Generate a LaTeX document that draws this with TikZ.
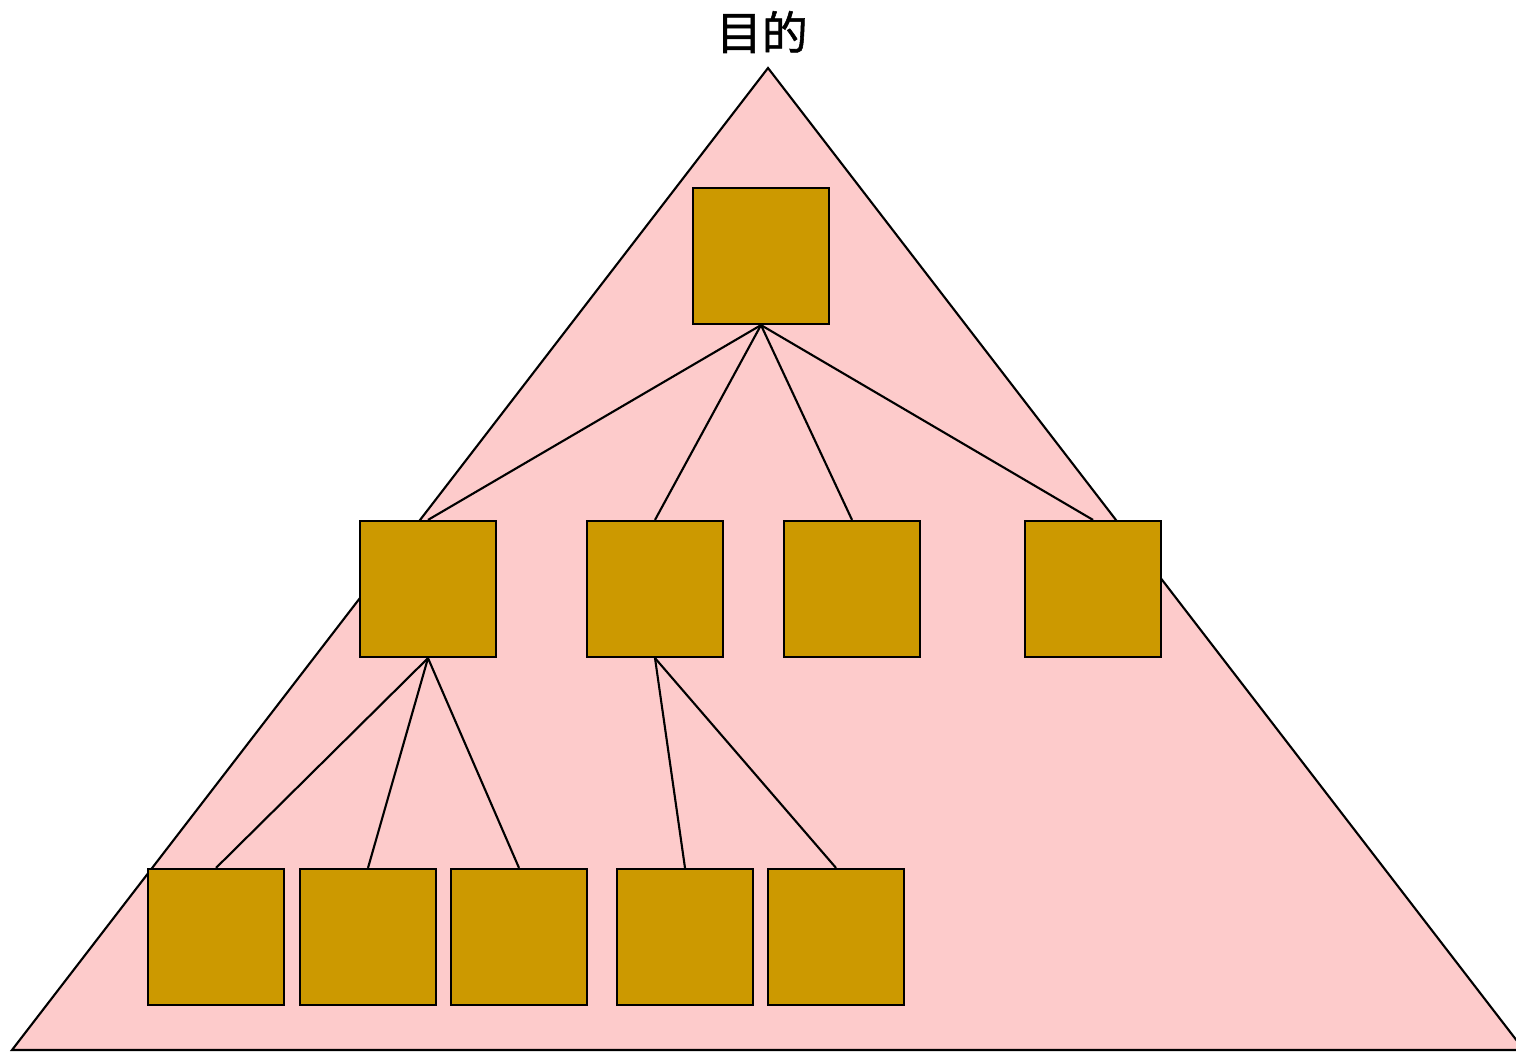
\documentclass[tikz,border=0pt]{standalone}
\usepackage{fontspec}
\newfontfamily\cjk{Noto Sans CJK SC}[FakeBold=1.2]
\definecolor{tripink}{HTML}{FDCBCB}
\definecolor{boxgold}{HTML}{CC9900}
\begin{document}
\begin{tikzpicture}[x=0.01cm,y=-0.01cm,line width=0.6pt]
\tikzstyle{box} = [minimum width=1.36cm, minimum height=1.36cm, draw, fill=boxgold, inner sep=0pt];

\useasboundingbox (0,0) rectangle (1516,1052);

\node[font=\cjk\fontsize{13}{15}\selectfont] (title) at (762,32) {目的};
\coordinate (apex) at (768,68);
\coordinate (bl) at (12,1050);
\coordinate (br) at (1524,1050);
\filldraw[fill=tripink] (apex) -- (bl) -- (br) -- cycle;

\node[box] (top) at (761,256) {};

\foreach \x/\n in {428/1,655/2,852/3,1093/4}
	\node[box] (m-\n) at (\x,589) {};

\foreach \x/\n in {216/1,368/2,519/3,685/4,836/5}
	\node[box] (b-\n) at (\x,937) {};

\foreach \n in {1,2,3,4}
	\draw (top.south) -- (m-\n.north);
\foreach \n in {1,2,3}
	\draw (m-1.south) -- (b-\n.north);
\foreach \n in {4,5}
	\draw (m-2.south) -- (b-\n.north);
\end{tikzpicture}
\end{document}
